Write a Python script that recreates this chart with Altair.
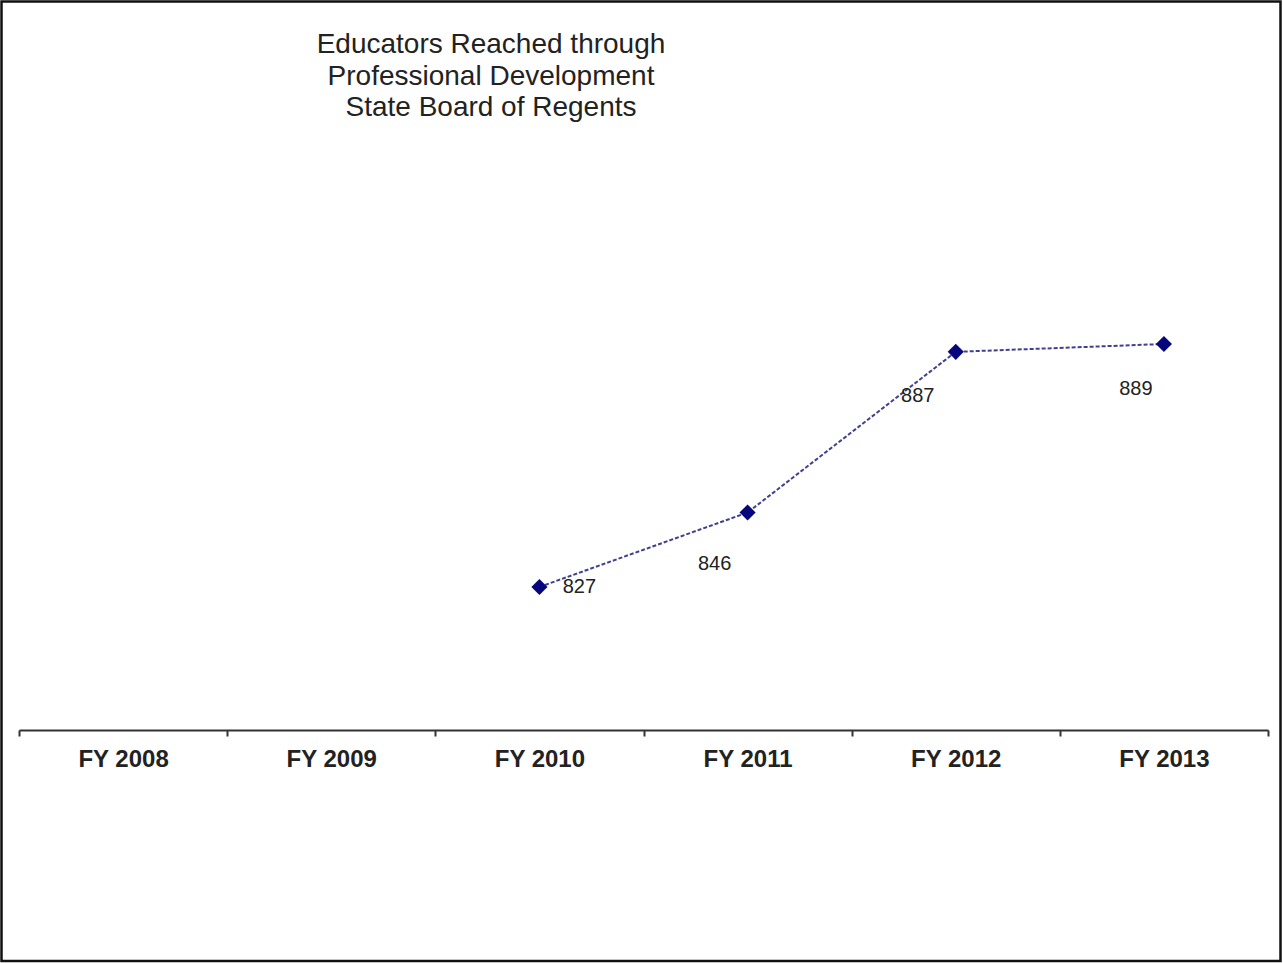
import altair as alt
import pandas as pd

# Fiscal years shown on the axis and the educator counts recorded for them
years = ["FY 2008", "FY 2009", "FY 2010", "FY 2011", "FY 2012", "FY 2013"]
measured_years = ["FY 2010", "FY 2011", "FY 2012", "FY 2013"]
educators = [827, 846, 887, 889]
title_lines = ["Educators Reached through", "Professional Development", "State Board of Regents"]

df = pd.DataFrame({"year": measured_years, "educators": educators})

x_enc = alt.X(
    "year:N",
    scale=alt.Scale(domain=years, paddingInner=0, paddingOuter=0),
    sort=years,
    axis=alt.Axis(
        title=None,
        labelAngle=0,
        labelFont="Liberation Sans",
        labelFontSize=24,
        labelFontWeight="bold",
        labelColor="#222222",
        labelPadding=11,
        domainColor="#333333",
        domainWidth=2,
        tickColor="#333333",
        tickWidth=2,
        tickSize=6,
        tickBand="extent",
        grid=False,
    ),
)
y_enc = alt.Y(
    "educators:Q",
    scale=alt.Scale(domain=[790.5, 950.5], zero=False, nice=False),
    axis=None,
)

base = alt.Chart(df).encode(x=x_enc, y=y_enc)

line = base.mark_line(
    color="#40408f", strokeWidth=2, strokeDash=[4, 2]
)
points = base.mark_point(
    shape="diamond", filled=True, size=260, color="#07077d", opacity=1
)

# Value labels, each nudged to sit beside its point
label_offsets = {"FY 2010": (40, 0), "FY 2011": (-33, 51), "FY 2012": (-38, 44), "FY 2013": (-28, 45)}
labels = []
for yr, (dx, dy) in label_offsets.items():
    labels.append(
        base.transform_filter(alt.datum.year == yr).mark_text(
            font="Liberation Sans", fontSize=20, color="#222222", dx=dx, dy=dy
        ).encode(text="educators:Q")
    )

single = pd.DataFrame({"k": [0]})

# Three-line heading above the plot
heading = alt.Chart(single).mark_text(
    text=title_lines,
    font="Liberation Sans",
    fontSize=28,
    color="#222222",
    lineHeight=31.5,
    align="center",
    baseline="middle",
).encode(x=alt.value(472), y=alt.value(-58))

# Frame around the whole figure
frame = alt.Chart(single).mark_rect(
    fill=None, stroke="#111111", strokeWidth=2.5
).encode(
    x=alt.value(-17.5), x2=alt.value(1261.5), y=alt.value(-101.5), y2=alt.value(858)
)

chart = alt.layer(line, points, *labels, heading, frame).properties(
    width=1249,
    height=627,
    background="white",
    autosize=alt.AutoSizeParams(type="none"),
    padding={"left": 19, "top": 103, "right": 15, "bottom": 233},
).configure_view(strokeWidth=0, stroke="transparent")

chart.save("out.html", embed_options={"renderer": "svg", "actions": False})
